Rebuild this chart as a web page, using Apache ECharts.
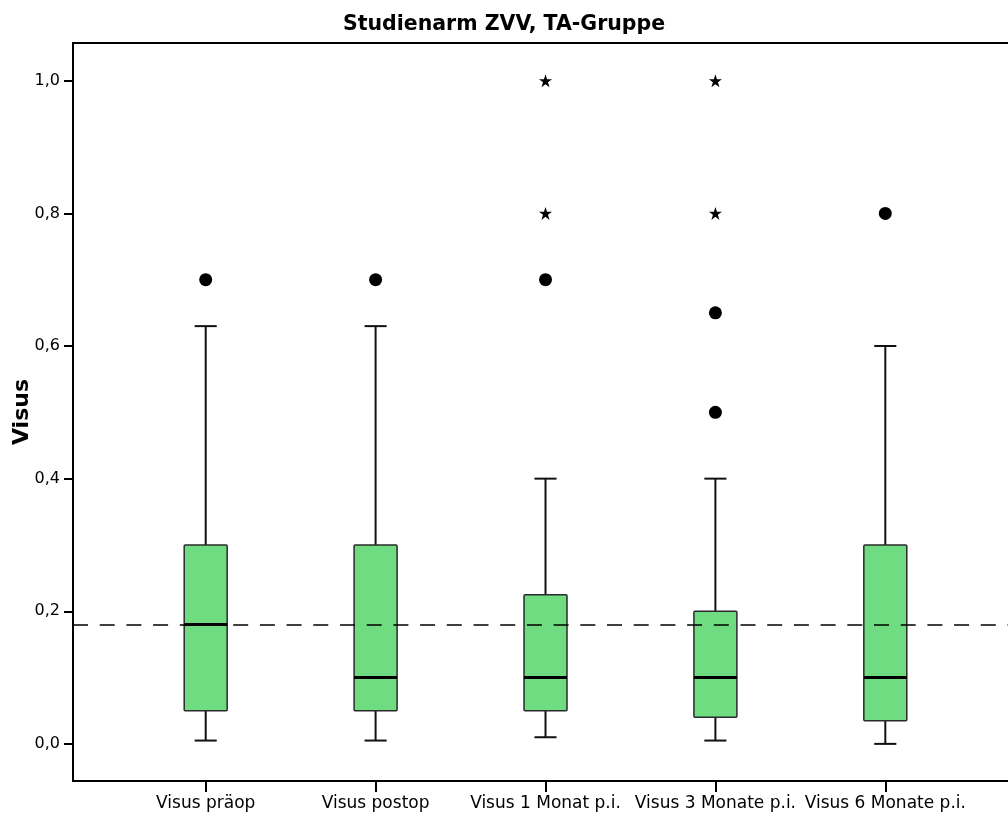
<!DOCTYPE html>
<html>
<head>
<meta charset="utf-8">
<script src="https://cdn.jsdelivr.net/npm/echarts@6/dist/echarts.min.js"></script>
<style>
  html, body { margin: 0; padding: 0; background: #fff; }
  #chart { width: 1008px; height: 814px; }
</style>
</head>
<body>
<div id="chart"></div>
<script>
// Visual acuity (Visus) at five time points, study arm ZVV, TA group
const categories = ['Visus präop', 'Visus postop', 'Visus 1 Monat p.i.', 'Visus 3 Monate p.i.', 'Visus 6 Monate p.i.'];
// [lower whisker, Q1, median, Q3, upper whisker]
const boxStats = [
  [0.005, 0.05, 0.18, 0.30, 0.63],
  [0.005, 0.05, 0.10, 0.30, 0.63],
  [0.01, 0.05, 0.10, 0.225, 0.40],
  [0.005, 0.04, 0.10, 0.20, 0.40],
  [0.0, 0.035, 0.10, 0.30, 0.60]
];
// outliers (circle) as [category index, value]
const outliers = [[0, 0.70], [1, 0.70], [2, 0.70], [3, 0.50], [3, 0.65], [4, 0.80]];
// extreme values (star) as [category index, value]
const extremes = [[2, 0.80], [2, 1.00], [3, 0.80], [3, 1.00]];
const referenceValue = 0.177;
const yTicks = [0, 0.2, 0.4, 0.6, 0.8, 1.0];

const starPath = 'path://M50,0 L61.8,35.4 L100,35.4 L69.1,57.3 L80.9,95.1 L50,72.6 L19.1,95.1 L30.9,57.3 L0,35.4 L38.2,35.4 Z';
const fontFamily = '"DejaVu Sans", "Noto Sans", sans-serif';

const chart = echarts.init(document.getElementById('chart'));

chart.setOption({
  backgroundColor: '#fff',
  animation: false,
  title: {
    text: 'Studienarm ZVV, TA-Gruppe',
    left: 'center',
    top: 9,
    textStyle: { fontFamily, fontSize: 20.5, fontWeight: 'bold', color: '#000' }
  },
  grid: {
    left: 73, top: 43, bottom: 33, right: -10,
    outerBoundsMode: 'none',
    containLabel: false,
    show: true, borderColor: '#000', borderWidth: 2, backgroundColor: 'transparent'
  },
  xAxis: {
    type: 'value',
    min: -0.781, max: 4.781,
    axisLine: { show: false, onZero: false },
    splitLine: { show: false },
    axisTick: { show: true, length: 11, customValues: categories.map((c, i) => i), lineStyle: { color: '#000', width: 2 } },
    axisLabel: {
      customValues: categories.map((c, i) => i),
      formatter: v => categories[Math.round(v)],
      fontFamily, fontSize: 17, color: '#000', margin: 14
    }
  },
  yAxis: {
    type: 'value',
    min: -0.056, max: 1.057,
    name: 'Visus',
    nameLocation: 'middle',
    nameGap: 40,
    nameMoveOverlap: false,
    nameTextStyle: { fontFamily, fontSize: 22, fontWeight: 'bold', color: '#000' },
    axisLine: { show: false, onZero: false },
    splitLine: { show: false },
    axisTick: { show: true, length: 9, customValues: yTicks, lineStyle: { color: '#000', width: 2 } },
    axisLabel: {
      customValues: yTicks,
      formatter: v => v.toFixed(1).replace('.', ','),
      fontFamily, fontSize: 16, color: '#000', margin: 13
    }
  },
  series: [
    {
      type: 'custom',
      z: 3,
      data: boxStats.map((s, i) => [i].concat(s)),
      renderItem: function (params, api) {
        const x = api.value(0);
        const pLow = api.coord([x, api.value(1)]);
        const pQ1 = api.coord([x, api.value(2)]);
        const pMed = api.coord([x, api.value(3)]);
        const pQ3 = api.coord([x, api.value(4)]);
        const pHigh = api.coord([x, api.value(5)]);
        const halfBox = api.size([0.253, 0])[0] / 2;
        const halfCap = api.size([0.13, 0])[0] / 2;
        const cx = pQ1[0];
        const line = { stroke: '#111', lineWidth: 2 };
        return {
          type: 'group',
          children: [
            { type: 'line', shape: { x1: cx, y1: pQ3[1], x2: cx, y2: pHigh[1] }, style: line },
            { type: 'line', shape: { x1: cx, y1: pQ1[1], x2: cx, y2: pLow[1] }, style: line },
            { type: 'line', shape: { x1: cx - halfCap, y1: pHigh[1], x2: cx + halfCap, y2: pHigh[1] }, style: line },
            { type: 'line', shape: { x1: cx - halfCap, y1: pLow[1], x2: cx + halfCap, y2: pLow[1] }, style: line },
            {
              type: 'rect',
              shape: { x: cx - halfBox, y: pQ3[1], width: halfBox * 2, height: pQ1[1] - pQ3[1], r: 1 },
              style: { fill: '#6FDC82', stroke: '#2a2a2a', lineWidth: 1.5 }
            },
            { type: 'line', shape: { x1: cx - halfBox, y1: pMed[1], x2: cx + halfBox, y2: pMed[1] }, style: { stroke: '#000', lineWidth: 3 } }
          ]
        };
      }
    },
    {
      type: 'scatter',
      z: 4,
      data: outliers,
      symbol: 'circle',
      symbolSize: 13,
      itemStyle: { color: '#000', opacity: 1 }
    },
    {
      type: 'scatter',
      z: 4,
      data: extremes,
      symbol: starPath,
      symbolSize: 13,
      itemStyle: { color: '#000', opacity: 1 }
    },
    {
      type: 'line',
      z: 2,
      data: [],
      markLine: {
        silent: true,
        symbol: ['none', 'none'],
        label: { show: false },
        lineStyle: { type: [15, 11.7], color: '#000', width: 1.6 },
        data: [{ yAxis: referenceValue }]
      }
    }
  ]
});
</script>
</body>
</html>
